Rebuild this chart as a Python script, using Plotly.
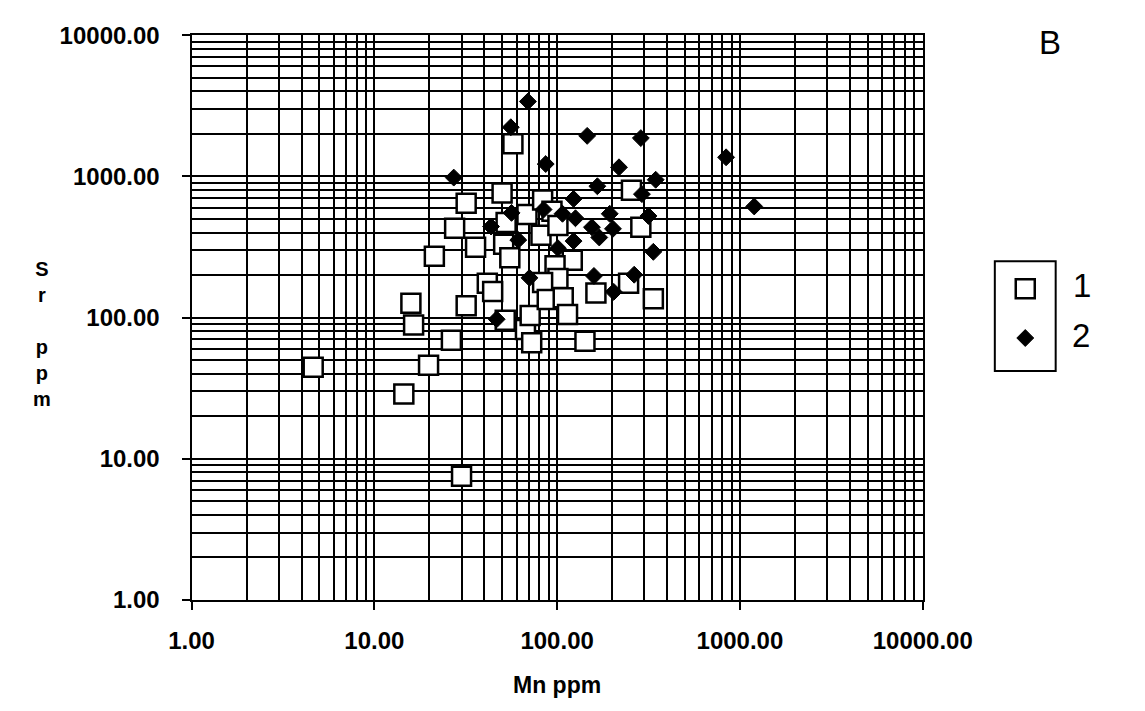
import plotly.graph_objects as go

W, H = 1145, 711

# Series 1 (open squares): Mn ppm, Sr ppm
s1_mn = [4.63, 14.5, 15.85, 16.4, 19.8, 21.3, 26.4, 27.5, 30, 31.8, 31.8, 35.8, 41.5, 44.4,
         50, 51, 52.6, 55.1, 52, 57.3, 67.1, 72.6, 71.2, 68.4, 83.3, 93.7, 81.6, 101, 121,
         97.4, 101, 83.3, 88.3, 108, 114, 142, 163, 246, 336, 255, 287]
s1_sr = [44.4, 28.7, 126, 88.5, 46, 272, 69, 429, 7.5, 646, 121, 315, 175, 153,
         763, 331, 471, 265, 95.7, 1700, 82.2, 66.3, 103.5, 537, 680, 566, 383, 448, 254,
         233, 189, 177, 134, 138, 105, 68, 149, 175, 136, 796, 436]

# Series 2 (filled diamonds)
s2_mn = [69.2, 55.8, 146, 287, 86.6, 218, 27.2, 346, 166, 291, 123, 84.3, 56.3, 107, 126,
         194, 316, 43.5, 155, 202, 170, 61.3, 123, 101, 336, 70.6, 159, 264, 204, 46.7,
         840, 1197]
s2_sr = [3390, 2228, 1935, 1866, 1222, 1159, 980, 946, 851, 748, 692, 582, 551, 543, 505,
         543, 524, 441, 436, 425, 369, 354, 348, 310, 292, 191, 197, 201, 152, 97.2,
         1364, 612]

legend_labels = ["1", "2"]
x_title = "Mn ppm"
y_title = "S<br>r<br><br>p<br>p<br>m"
panel_label = "B"

FONT = "Liberation Sans, Arial, sans-serif"

# pixel geometry of the plotting area
PL, PR, PT, PB = 180, 961, 22, 609


def px(x):
    return x / W


def py(y):
    return 1 - y / H


SQ = dict(symbol="square", size=19, color="white", line=dict(color="black", width=2.5))
DM = dict(symbol="diamond", size=13, color="black", line=dict(color="black", width=1))

fig = go.Figure()

fig.add_trace(go.Scatter(x=s1_mn, y=s1_sr, mode="markers", name=legend_labels[0],
                         showlegend=False, marker=SQ, xaxis="x", yaxis="y"))
fig.add_trace(go.Scatter(x=s2_mn, y=s2_sr, mode="markers", name=legend_labels[1],
                         showlegend=False, marker=DM, xaxis="x", yaxis="y"))

# legend symbols on a small hidden axis
fig.add_trace(go.Scatter(x=[0.5], y=[0.75], mode="markers", showlegend=False, hoverinfo="skip",
                         marker=SQ, xaxis="x2", yaxis="y2"))
fig.add_trace(go.Scatter(x=[0.5], y=[0.3], mode="markers", showlegend=False, hoverinfo="skip",
                         marker=DM, xaxis="x2", yaxis="y2"))

tick_font = dict(family=FONT, size=24, color="black", weight="bold")

axis_common = dict(
    type="log", range=[0, 4], tickmode="linear", tick0=0, dtick=1, tickformat=".2f",
    showgrid=True, gridcolor="black", gridwidth=2,
    showline=True, linecolor="black", linewidth=2, mirror=True,
    ticks="outside", ticklen=8, tickwidth=2, tickcolor="black",
    tickfont=tick_font,
    minor=dict(dtick="D1", showgrid=True, gridcolor="black", gridwidth=2, ticks=""),
    zeroline=False, fixedrange=True,
)

fig.update_layout(
    width=W, height=H,
    margin=dict(l=0, r=0, t=0, b=0),
    paper_bgcolor="white", plot_bgcolor="white",
    showlegend=False,
    xaxis=dict(domain=[px(PL), px(PR)], anchor="y", ticklabelstandoff=10, **axis_common),
    yaxis=dict(domain=[py(PB), py(PT)], anchor="x", ticklabelstandoff=17, **axis_common),
    xaxis2=dict(domain=[px(1038), px(1103)], range=[0, 1], anchor="y2", visible=False, fixedrange=True),
    yaxis2=dict(domain=[py(371), py(257)], range=[0, 1], anchor="x2", visible=False, fixedrange=True),
)

# legend box
fig.add_shape(type="rect", xref="paper", yref="paper",
              x0=px(1038), x1=px(1103), y0=py(371), y1=py(257),
              line=dict(color="black", width=2), fillcolor="rgba(0,0,0,0)")

big_font = dict(family=FONT, size=33, color="black")
fig.add_annotation(xref="paper", yref="paper", x=px(1131), y=py(282), text=legend_labels[0],
                   showarrow=False, font=big_font, xanchor="center", yanchor="middle")
fig.add_annotation(xref="paper", yref="paper", x=px(1130), y=py(334), text=legend_labels[1],
                   showarrow=False, font=big_font, xanchor="center", yanchor="middle")
fig.add_annotation(xref="paper", yref="paper", x=px(1097), y=py(30), text=panel_label,
                   showarrow=False, font=big_font, xanchor="center", yanchor="middle")
fig.add_annotation(xref="paper", yref="paper", x=px(570), y=py(697), text=x_title,
                   showarrow=False, font=dict(family=FONT, size=23, color="black", weight="bold"),
                   xanchor="center", yanchor="middle")
fig.add_annotation(xref="paper", yref="paper", x=px(20), y=py(333), text=y_title,
                   showarrow=False, font=dict(family=FONT, size=20, color="black", weight="bold"),
                   xanchor="center", yanchor="middle", align="center")

fig.write_html("out.html", config={"displayModeBar": False},
               post_script="document.body.style.margin='0';document.body.style.overflow='hidden';")
